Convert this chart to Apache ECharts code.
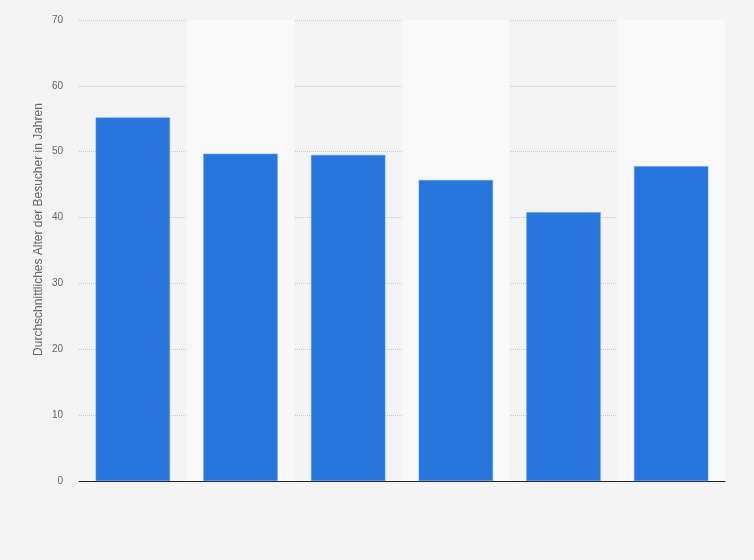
<!DOCTYPE html>
<html>
<head>
<meta charset="utf-8">
<script src="https://cdn.jsdelivr.net/npm/echarts@6/dist/echarts.min.js"></script>
<style>
  html, body { margin: 0; padding: 0; background: #f3f3f3; }
  #chart { width: 754px; height: 560px; }
</style>
</head>
<body>
<div id="chart"></div>
<script>
// Kategorien ohne Beschriftung (im Original keine x-Labels sichtbar)
const categories = ["A", "B", "C", "D", "E", "F"];
// Durchschnittsalter der Besucher
const ageValues = [55.2, 49.7, 49.5, 45.7, 40.8, 47.8];
const yTicks = { min: 0, max: 70, interval: 10 };

const chart = echarts.init(document.getElementById('chart'));

const option = {
  backgroundColor: "#f3f3f3",
  animation: false,
  grid: { left: 79, right: 29, top: 20, bottom: 79 },
  xAxis: {
    type: "category",
    data: categories,
    axisLine: { lineStyle: { color: "#222", width: 1 } },
    axisTick: { show: false },
    axisLabel: { show: false },
    splitArea: { show: true, areaStyle: { color: ["rgba(0,0,0,0)", "#f8f8f8"] } }
  },
  yAxis: {
    type: "value",
    min: yTicks.min,
    max: yTicks.max,
    interval: yTicks.interval,
    name: "Durchschnittliches Alter der Besucher in Jahren",
    nameLocation: "middle",
    nameGap: 34,
    nameMoveOverlap: false,
    // Titel im Original leicht nach oben versetzt
    nameTextStyle: { color: "#666", fontSize: 12, fontFamily: "Liberation Sans", padding: [0, 0, 0, 42] },
    axisLine: { show: false },
    axisTick: { show: false },
    axisLabel: { color: "#666", fontSize: 10, fontFamily: "Liberation Sans", margin: 16 },
    splitLine: { lineStyle: { color: "#c8c8c8", type: [1, 1], width: 1 } }
  },
  series: [{
    type: "bar",
    data: ageValues,
    barCategoryGap: "31%",
    itemStyle: { color: "#2876dd", borderColor: "#5a98e8", borderWidth: 0.5 }
  }]
};

chart.setOption(option);
</script>
</body>
</html>
